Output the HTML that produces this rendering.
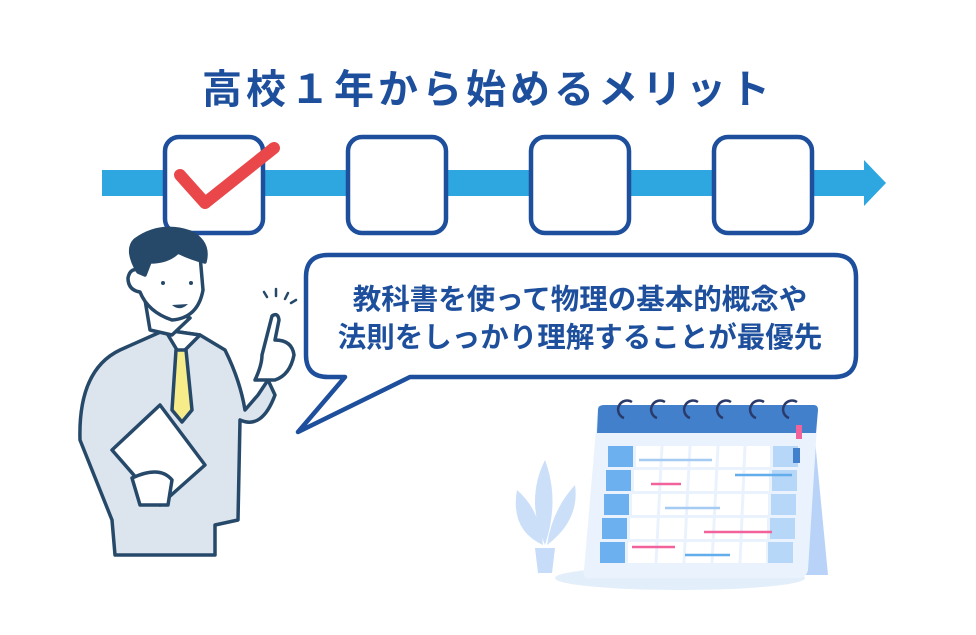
<!DOCTYPE html>
<html><head><meta charset="utf-8"><style>
html,body{margin:0;padding:0;background:#fff;}
svg{display:block;}
text{font-family:"Liberation Sans","Noto Sans CJK JP",sans-serif;font-weight:bold;fill:#1d4f9c;}
</style></head><body>
<svg width="976" height="635" viewBox="0 0 976 635" xmlns="http://www.w3.org/2000/svg">
<rect width="976" height="635" fill="#fff"/>
<text x="488" y="103" font-size="40" text-anchor="middle" letter-spacing="4">高校１年から始めるメリット</text>
<rect x="102" y="170" width="765" height="26" fill="#2ea7e0"/>
<polygon points="864,160 886,183 864,206" fill="#2ea7e0"/>
<g fill="#fff" stroke="#1d4f9c" stroke-width="4.5">
<rect x="165" y="137" width="98" height="96" rx="14"/>
<rect x="348" y="137" width="98" height="96" rx="14"/>
<rect x="531" y="137" width="98" height="96" rx="14"/>
<rect x="714" y="137" width="98" height="96" rx="14"/>
</g>
<polyline points="180,175 205,203 274,148" fill="none" stroke="#e9474a" stroke-width="12" stroke-linecap="round" stroke-linejoin="round"/>
<path d="M328,255 H834 Q856,255 856,277 V355 Q856,377 834,377 H410 L298,432 L345,377 H328 Q306,377 306,355 V277 Q306,255 328,255 Z" fill="#fff" stroke="#1d4f9c" stroke-width="4.5" stroke-linejoin="round"/>
<text x="580" y="309" font-size="28.5" text-anchor="middle">教科書を使って物理の基本的概念や</text>
<text x="580" y="347" font-size="28.5" text-anchor="middle">法則をしっかり理解することが最優先</text>
<!-- person -->
<g stroke="#26496a" stroke-width="3.5" stroke-linejoin="round" stroke-linecap="round">
<path d="M115,555 L112,520 L80,440 Q78,370 120,350 L165,330 L200,335 L225,350 Q240,380 245,410 L258,395 L268,380 L275,395 Q262,430 240,420 L238,520 L215,525 L215,555 Z" fill="#dce5ee"/>
<path d="M165,330 L180,355 L200,335 Z" fill="#fff"/>
<path d="M176,350 L186,350 L192,410 L182,422 L172,410 Z" fill="#f7ec8a"/>
<path d="M255,380 Q262,365 262,355 L272,316 Q278,312 279,320 L275,340 Q292,340 294,355 Q290,375 275,380 Z" fill="#fff"/>
<path d="M145,300 L150,330 L172,335 L190,318 Z" fill="#fff"/>
<path d="M135,250 Q170,235 200,255 L203,290 Q198,318 172,320 Q148,312 140,292 Q128,290 128,278 Q130,268 138,270 Z" fill="#fff"/>
<path d="M138,272 Q125,250 135,240 Q160,222 190,232 Q210,242 205,262 Q190,258 178,252 Q168,262 150,262 L145,275 Z" fill="#26496a"/>
<path d="M112,450 L160,405 L205,465 L160,505 Z" fill="#fff"/>
<path d="M132,478 Q160,465 172,480 L168,505 L140,505 Z" fill="#fff"/>
</g>
<circle cx="163" cy="283" r="2" fill="#26496a"/><circle cx="191" cy="283" r="2" fill="#26496a"/>
<path d="M172,305 Q180,312 188,304 Z" fill="#26496a"/>
<g stroke="#26496a" stroke-width="2.5" stroke-linecap="round">
<line x1="264" y1="292" x2="267" y2="297"/><line x1="276" y1="289" x2="276" y2="296"/><line x1="288" y1="293" x2="285" y2="299"/><line x1="296" y1="300" x2="291" y2="303"/>
</g>
<!-- calendar -->
<ellipse cx="680" cy="578" rx="125" ry="12" fill="#e3eefb"/>
<path d="M800,440 L815,440 L828,575 L795,575 Z" fill="#b8d3f7"/>
<path d="M598,406 L815,406 Q818,406 818,410 L808,570 Q806,578 798,578 L590,578 Q582,578 584,570 Z" fill="#eaf3fd"/>
<path d="M600,405 H814 Q818,405 818,410 L816,433 H597 L598,410 Q598,405 604,405 Z" fill="#4280cc"/>
<g fill="#6cb0ef">
<rect x="608" y="446" width="25" height="21"/><rect x="606" y="470" width="25" height="21"/><rect x="604" y="494" width="25" height="21"/><rect x="602" y="518" width="25" height="21"/><rect x="600" y="542" width="25" height="21"/>
</g>
<g fill="#b7d7f8">
<rect x="773" y="446" width="25" height="21"/><rect x="772" y="470" width="25" height="21"/><rect x="771" y="494" width="25" height="21"/><rect x="770" y="518" width="25" height="21"/><rect x="768" y="542" width="25" height="21"/>
</g>
<g fill="#fff">
<rect x="636" y="446" width="134" height="21"/><rect x="634" y="470" width="135" height="21"/><rect x="632" y="494" width="136" height="21"/><rect x="630" y="518" width="137" height="21"/><rect x="628" y="542" width="138" height="21"/>
</g>
<g stroke="#eaf3fd" stroke-width="3">
<line x1="662" y1="446" x2="656" y2="563"/><line x1="690" y1="446" x2="684" y2="563"/><line x1="718" y1="446" x2="712" y2="563"/><line x1="745" y1="446" x2="740" y2="563"/>
</g>
<g stroke-width="2.5">
<line x1="639" y1="460" x2="712" y2="460" stroke="#a6cbf3"/>
<line x1="735" y1="475" x2="792" y2="475" stroke="#62aeec"/>
<line x1="651" y1="484" x2="681" y2="484" stroke="#f2639b"/>
<line x1="665" y1="508" x2="720" y2="508" stroke="#a6cbf3"/>
<line x1="704" y1="532" x2="772" y2="532" stroke="#f2639b"/>
<line x1="632" y1="547" x2="675" y2="547" stroke="#f2639b"/>
<line x1="685" y1="555" x2="730" y2="555" stroke="#62aeec"/>
</g>
<rect x="796" y="425" width="6" height="14" fill="#f2639b"/>
<rect x="793" y="448" width="7" height="15" fill="#4280cc"/>
<g fill="none" stroke="#2a3a6a" stroke-width="2.5">
<path d="M624,418 A9,9 0 1,1 632,402"/><path d="M657,418 A9,9 0 1,1 665,402"/><path d="M690,418 A9,9 0 1,1 698,402"/><path d="M723,418 A9,9 0 1,1 731,402"/><path d="M756,418 A9,9 0 1,1 764,402"/><path d="M789,418 A9,9 0 1,1 797,402"/>
</g>
<path d="M535,548 L555,548 L552,573 L538,573 Z" fill="#c6dcf8"/>
<g fill="#c6dcf8" opacity="0.9">
<path d="M545,545 Q525,500 545,460 Q560,500 545,545 Z"/>
<path d="M543,545 Q510,530 517,490 Q540,510 543,545 Z"/>
<path d="M547,545 Q580,520 575,485 Q552,510 547,545 Z"/>
</g>
</svg>
</body></html>
